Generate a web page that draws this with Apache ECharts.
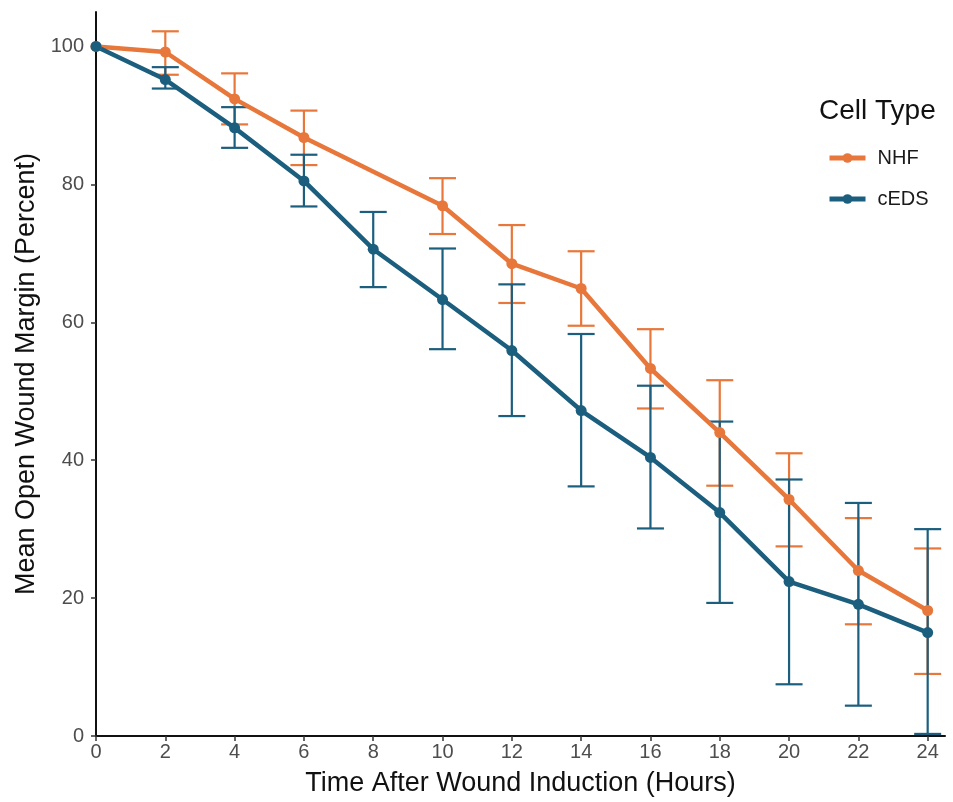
<!DOCTYPE html>
<html>
<head>
<meta charset="utf-8">
<title>Wound closure</title>
<script src="https://cdn.jsdelivr.net/npm/echarts@6/dist/echarts.min.js"></script>
<style>
  html, body { margin: 0; padding: 0; background: #fff; }
  #chart { width: 953px; height: 802px; }
</style>
</head>
<body>
<div id="chart"></div>
<script>
var hours = [0, 2, 4, 6, 8, 10, 12, 14, 16, 18, 20, 22, 24];

// NHF has no measurement at 8 h
var nhfMean = [100, 99.2, 92.4, 86.8, null, 76.9, 68.5, 64.9, 53.3, 44.0, 34.3, 24.0, 18.2];
var nhfLow = [null, 95.9, 88.7, 82.8, null, 72.8, 62.8, 59.5, 47.5, 36.3, 27.5, 16.2, 9.0];
var nhfHigh = [null, 102.2, 96.1, 90.7, null, 80.9, 74.1, 70.3, 59.0, 51.6, 41.0, 31.6, 27.2];

var cedsMean = [100, 95.2, 88.2, 80.5, 70.6, 63.3, 55.9, 47.2, 40.4, 32.4, 22.4, 19.1, 15.0];
var cedsLow = [null, 93.9, 85.3, 76.8, 65.1, 56.1, 46.4, 36.2, 30.1, 19.3, 7.5, 4.4, 0.3];
var cedsHigh = [null, 97.0, 91.2, 84.3, 76.0, 70.7, 65.5, 58.3, 50.8, 45.6, 37.2, 33.8, 30.0];

var yTicks = [0, 20, 40, 60, 80, 100];
var xTicks = [0, 2, 4, 6, 8, 10, 12, 14, 16, 18, 20, 22, 24];

var orange = '#E7773A';
var blue = '#1B5E7E';
var font = '"Liberation Sans", Arial, sans-serif';

function pairs(means) {
  return hours.map(function (h, i) { return [h, means[i]]; });
}

function bars(low, high) {
  var out = [];
  hours.forEach(function (h, i) {
    if (low[i] != null) out.push([h, low[i], high[i]]);
  });
  return out;
}

function errorBars(color) {
  return function (params, api) {
    var lo = api.coord([api.value(0), api.value(1)]);
    var hi = api.coord([api.value(0), api.value(2)]);
    var half = 13.5;
    var style = { stroke: color, lineWidth: 2.2 };
    return {
      type: 'group',
      children: [
        { type: 'line', shape: { x1: lo[0], y1: lo[1], x2: hi[0], y2: hi[1] }, style: style },
        { type: 'line', shape: { x1: lo[0] - half, y1: lo[1], x2: lo[0] + half, y2: lo[1] }, style: style },
        { type: 'line', shape: { x1: hi[0] - half, y1: hi[1], x2: hi[0] + half, y2: hi[1] }, style: style }
      ]
    };
  };
}

var chart = echarts.init(document.getElementById('chart'));

chart.setOption({
  animation: false,
  textStyle: { fontFamily: font },
  grid: { left: 96, right: 8, top: 12, bottom: 65 },
  title: {
    text: 'Cell Type',
    left: 814,
    top: 92,
    textStyle: { fontSize: 28, fontWeight: 'normal', color: '#111', fontFamily: font }
  },
  legend: {
    orient: 'vertical',
    left: 822,
    top: 143,
    itemWidth: 36,
    itemHeight: 12,
    itemGap: 21,
    data: ['NHF', 'cEDS'],
    lineStyle: { width: 5 },
    textStyle: { fontSize: 20, color: '#1a1a1a', padding: [0, 0, 0, 7] }
  },
  xAxis: {
    type: 'value',
    min: 0,
    max: 24.5,
    name: 'Time After Wound Induction (Hours)',
    nameLocation: 'middle',
    nameGap: 34,
    nameTextStyle: { fontSize: 27, color: '#111' },
    axisLine: { lineStyle: { color: '#111', width: 2 } },
    axisTick: { customValues: xTicks, length: 5, lineStyle: { color: '#333', width: 1.5 } },
    axisLabel: { customValues: xTicks, fontSize: 20, color: '#4d4d4d', margin: 6 },
    splitLine: { show: false }
  },
  yAxis: {
    type: 'value',
    min: 0,
    max: 105,
    name: 'Mean Open Wound Margin (Percent)',
    nameLocation: 'middle',
    nameGap: 54,
    nameTextStyle: { fontSize: 27, color: '#111' },
    axisLine: { show: true, lineStyle: { color: '#111', width: 2 } },
    axisTick: { show: true, customValues: yTicks, length: 5, lineStyle: { color: '#333', width: 1.5 } },
    axisLabel: { customValues: yTicks, fontSize: 20, color: '#4d4d4d', margin: 12 },
    splitLine: { show: false }
  },
  series: [
    {
      name: 'NHF err',
      type: 'custom',
      renderItem: errorBars(orange),
      data: bars(nhfLow, nhfHigh),
      encode: { x: 0, y: [1, 2] },
      z: 1
    },
    {
      name: 'cEDS err',
      type: 'custom',
      renderItem: errorBars(blue),
      data: bars(cedsLow, cedsHigh),
      encode: { x: 0, y: [1, 2] },
      z: 1
    },
    {
      name: 'NHF',
      type: 'line',
      data: pairs(nhfMean),
      connectNulls: true,
      symbol: 'circle',
      symbolSize: 11,
      lineStyle: { color: orange, width: 4.5 },
      itemStyle: { color: orange },
      z: 3
    },
    {
      name: 'cEDS',
      type: 'line',
      data: pairs(cedsMean),
      symbol: 'circle',
      symbolSize: 11,
      lineStyle: { color: blue, width: 4.5 },
      itemStyle: { color: blue },
      z: 3
    }
  ]
});
</script>
</body>
</html>
